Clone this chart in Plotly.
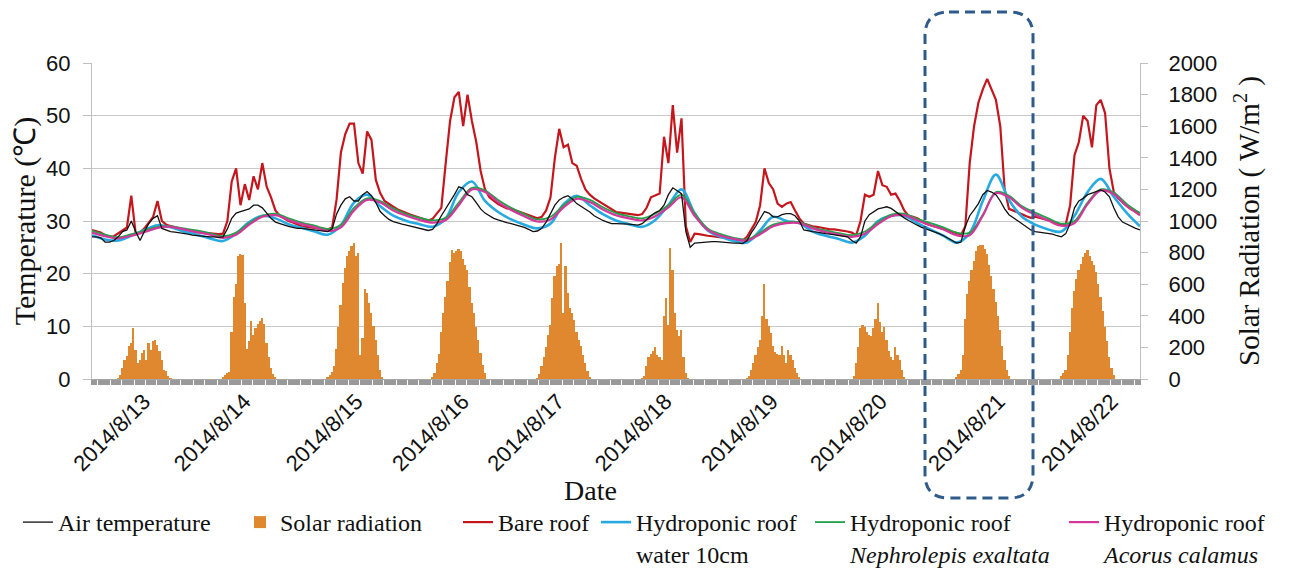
import pandas as pd
import plotly.graph_objects as go

# ---------------- data ----------------
start = "2014-08-13 00:00"
end = "2014-08-23 00:00"

# hourly values 2014-08-13 00:00 ... 2014-08-23 00:00 (241 values)
bare_roof = [
    28.3, 28.1, 27.8, 27.3, 27.0, 27.1, 27.6, 28.2, 28.8, 34.8, 27.6, 27.8, 28.6, 29.6, 30.8, 33.8, 30.0, 29.3, 29.0, 28.8, 28.6, 28.4, 28.2, 28.0,
    27.9, 27.8, 27.7, 27.6, 27.5, 27.5, 27.6, 30.0, 37.5, 40.0, 33.0, 37.0, 34.0, 38.5, 36.0, 41.0, 36.5, 34.5, 32.0, 31.0, 30.5, 30.0, 29.7, 29.3,
    29.0, 28.9, 28.8, 28.8, 28.7, 28.6, 28.4, 28.8, 34.0, 43.0, 46.5, 48.5, 48.5, 41.0, 39.0, 47.0, 45.4, 37.8, 35.3, 33.8, 33.2, 32.7, 32.2, 31.8,
    31.5, 31.2, 30.9, 30.6, 30.3, 30.1, 30.4, 31.5, 32.5, 41.0, 49.0, 53.5, 54.5, 48.0, 54.0, 49.0, 45.0, 39.5, 36.0, 34.5, 33.8, 33.2, 32.8, 32.4,
    32.3, 32.0, 31.7, 31.4, 31.1, 30.8, 30.5, 30.8, 32.0, 34.5, 42.0, 47.5, 44.0, 44.5, 41.0, 40.5, 38.0, 36.0, 35.0, 34.3, 33.8, 33.3, 32.8, 32.3,
    31.7, 31.6, 31.5, 31.4, 31.3, 31.1, 31.3, 32.5, 34.5, 34.8, 35.2, 46.0, 41.0, 52.0, 43.0, 49.5, 29.0, 26.0, 27.6, 27.5, 27.3, 27.2, 27.1, 27.0,
    27.0, 26.8, 26.6, 26.5, 26.4, 26.3, 27.0, 28.5, 29.8, 33.0, 40.0, 37.2, 36.0, 33.3, 32.7, 33.3, 33.6, 32.0, 30.5, 29.5, 29.2, 29.0, 28.9, 28.7,
    28.5, 28.4, 28.4, 28.3, 28.2, 28.0, 27.8, 27.3, 30.0, 35.0, 34.6, 35.0, 39.5, 36.8, 36.5, 35.0, 35.2, 33.8, 32.0, 31.0, 30.8, 30.5, 30.0, 29.5,
    29.2, 29.0, 28.8, 28.5, 28.2, 28.0, 27.7, 27.3, 29.0, 41.0, 48.0, 52.5, 55.0, 57.0, 55.0, 53.0, 48.0, 36.0, 32.3, 32.0, 31.7, 31.3, 30.9, 30.6,
    30.8, 30.6, 30.4, 30.2, 29.9, 29.5, 29.2, 29.4, 33.0, 42.5, 45.0, 50.0, 49.0, 44.0, 52.0, 53.0, 50.5, 40.0, 35.5, 34.3, 33.5, 32.8, 32.2, 31.8, 31.5,
]

air_temperature = [
    27.0, 27.0, 26.8, 26.0, 26.0, 26.3, 27.0, 28.0, 28.3, 30.0, 28.0, 26.3, 28.0, 29.5, 30.5, 31.0, 28.6, 28.3, 28.0, 27.9, 27.8, 27.7, 27.5, 27.3,
    27.2, 27.2, 27.1, 27.0, 27.0, 26.9, 27.0, 28.5, 30.5, 31.5, 31.8, 32.0, 32.3, 33.0, 33.0, 32.5, 31.5, 30.5, 29.8, 29.5, 29.2, 29.0, 28.8, 28.6,
    28.6, 28.5, 28.4, 28.3, 28.2, 28.1, 28.0, 28.5, 31.3, 33.0, 34.2, 34.6, 33.8, 33.8, 35.0, 35.6, 34.8, 33.5, 31.8, 31.0, 30.3, 29.9, 29.6, 29.4,
    29.2, 29.0, 28.8, 28.6, 28.4, 28.2, 28.4, 29.5, 31.0, 32.3, 33.5, 35.0, 36.5, 36.2, 35.0, 34.6, 33.5, 32.3, 31.5, 31.0, 30.5, 30.2, 29.9, 29.7,
    29.5, 29.3, 29.0, 28.8, 28.4, 28.0, 28.1, 28.6, 29.8, 31.4, 33.0, 34.0, 34.5, 34.8, 34.2, 33.3, 32.8, 32.2, 31.7, 31.0, 30.5, 30.1, 29.8, 29.5,
    29.5, 29.5, 29.4, 29.4, 29.3, 29.2, 29.5, 30.3, 31.0, 31.6, 32.0, 33.0, 35.0, 36.3, 35.8, 35.2, 28.0, 25.0, 25.8, 25.9, 26.0, 26.0, 26.1, 26.1,
    26.0, 26.0, 25.9, 25.8, 25.8, 25.7, 26.3, 27.8, 29.0, 30.5, 31.8, 31.5, 30.8, 30.8, 31.2, 31.4, 31.4, 31.0, 30.0, 28.3, 28.1, 28.0, 27.9, 27.7,
    27.6, 27.5, 27.4, 27.3, 27.2, 27.0, 26.3, 25.8, 27.0, 30.0, 31.2, 31.8, 32.3, 32.5, 32.7, 32.4, 31.8, 31.1, 30.6, 30.1, 29.6, 29.2, 28.8, 28.5,
    28.3, 28.0, 27.6, 27.2, 26.8, 26.3, 25.8, 26.0, 29.0, 31.0, 32.1, 33.3, 35.0, 35.8, 35.5, 35.0, 33.8, 32.3, 31.2, 30.6, 30.0, 29.5, 28.8, 28.3,
    28.0, 27.9, 27.8, 27.7, 27.5, 27.2, 27.0, 27.6, 29.5, 32.5, 33.8, 34.3, 35.0, 35.3, 35.6, 35.9, 35.5, 34.6, 32.5, 30.8, 29.8, 29.4, 28.9, 28.6, 28.3,
]

# 3-hourly values 2014-08-13 00:00 ... 2014-08-23 00:00 (81 values)
hydro_water = [
    27.3, 26.5, 26.3, 27.2, 28.3, 29.2, 28.8, 28.0,
    27.4, 26.7, 26.2, 27.6, 29.8, 31.0, 30.5, 29.4,
    28.7, 28.0, 27.4, 29.2, 33.5, 35.0, 32.8, 31.0,
    30.0, 29.4, 28.9, 30.5, 35.5, 37.5, 33.8, 31.7,
    30.3, 29.3, 28.6, 29.5, 33.2, 34.8, 33.0, 31.3,
    30.1, 29.4, 28.9, 30.2, 33.0, 36.0, 31.5, 28.2,
    27.0, 26.2, 25.9, 28.2, 30.8, 30.0, 29.6, 28.0,
    27.2, 26.6, 25.9, 27.2, 30.0, 31.0, 31.0, 29.6,
    28.4, 27.2, 25.9, 27.7, 33.8, 38.8, 34.0, 30.8,
    29.3, 28.4, 28.0, 31.0, 35.5, 38.0, 34.6, 31.5, 29.0,
]
hydro_nephrolepis = [
    28.2, 27.4, 26.9, 27.5, 28.2, 28.9, 29.0, 28.6,
    28.2, 27.7, 27.1, 27.8, 29.6, 31.0, 31.4, 30.5,
    29.7, 29.1, 28.5, 29.3, 32.5, 34.3, 33.8, 32.4,
    31.3, 30.6, 30.1, 30.6, 33.5, 36.3, 35.8, 34.0,
    32.5, 31.3, 30.3, 30.8, 33.0, 34.6, 34.0, 32.6,
    31.5, 30.9, 30.5, 31.4, 33.0, 35.0, 31.5, 28.6,
    27.5, 26.8, 26.5, 27.8, 29.3, 29.8, 29.8, 28.8,
    28.2, 27.7, 27.3, 28.0, 29.8, 31.2, 31.4, 30.4,
    29.6, 28.8, 27.8, 27.8, 31.2, 35.5, 34.8, 32.8,
    31.6, 30.5, 29.5, 30.0, 33.5, 36.0, 35.4, 33.2, 31.5,
]
hydro_acorus = [
    27.8, 27.1, 26.7, 27.2, 27.9, 28.7, 28.9, 28.4,
    27.9, 27.4, 26.8, 27.4, 29.3, 30.8, 31.1, 30.2,
    29.4, 28.8, 28.1, 28.8, 32.0, 34.0, 33.5, 32.0,
    31.0, 30.2, 29.7, 30.2, 33.0, 36.0, 35.5, 33.6,
    32.1, 30.9, 29.9, 30.3, 32.6, 34.2, 33.6, 32.2,
    31.1, 30.5, 30.1, 30.9, 32.6, 34.5, 31.0, 28.3,
    27.2, 26.6, 26.3, 27.5, 29.0, 29.6, 29.6, 28.6,
    27.9, 27.4, 27.0, 27.6, 29.4, 30.9, 31.1, 30.1,
    29.2, 28.4, 27.3, 27.3, 31.0, 35.3, 34.5, 32.5,
    31.2, 30.1, 29.1, 29.6, 33.2, 35.8, 35.1, 32.8, 31.1,
]

# solar radiation (W/m2), 30-min values from 05:30 to 18:30 each day (night = 0)
solar_days = ["2014-08-13", "2014-08-14", "2014-08-15", "2014-08-16", "2014-08-17",
              "2014-08-18", "2014-08-19", "2014-08-20", "2014-08-21", "2014-08-22"]
solar_radiation = [
    [0, 5, 27, 70, 122, 143, 207, 228, 323, 186, 101, 122, 165, 186, 122, 228, 186, 238, 249, 217, 175, 122, 59, 48, 21, 3, 0],
    [0, 10, 25, 35, 45, 300, 520, 600, 780, 790, 785, 480, 190, 240, 370, 280, 320, 350, 370, 386, 350, 230, 140, 70, 30, 10, 0],
    [0, 10, 25, 45, 80, 190, 330, 470, 610, 700, 780, 810, 840, 860, 780, 800, 150, 260, 570, 545, 480, 420, 333, 250, 150, 60, 15],
    [0, 10, 40, 100, 160, 300, 420, 520, 620, 740, 815, 800, 810, 820, 810, 760, 720, 690, 580, 480, 420, 330, 250, 165, 90, 40, 0],
    [0, 5, 30, 80, 140, 200, 280, 340, 510, 650, 714, 730, 860, 420, 714, 545, 450, 418, 376, 300, 249, 207, 150, 101, 50, 10, 0],
    [0, 5, 20, 80, 140, 160, 180, 200, 150, 140, 120, 400, 510, 340, 830, 690, 420, 310, 270, 310, 140, 40, 5, 0, 0, 0, 0],
    [0, 5, 20, 55, 100, 150, 200, 250, 400, 600, 380, 334, 290, 207, 170, 160, 154, 207, 150, 101, 186, 150, 122, 70, 40, 15, 0],
    [0, 0, 20, 100, 200, 320, 340, 330, 300, 280, 270, 320, 380, 480, 360, 300, 330, 250, 180, 140, 120, 200, 150, 120, 60, 10, 0],
    [0, 10, 30, 60, 150, 380, 540, 620, 690, 750, 810, 840, 850, 845, 820, 790, 720, 650, 570, 490, 400, 310, 210, 120, 60, 20, 0],
    [0, 20, 40, 60, 150, 300, 450, 560, 630, 690, 730, 775, 800, 815, 780, 750, 720, 680, 600, 520, 430, 330, 240, 140, 70, 25, 0],
]

tick_positions = ["2014-08-13 11:54", "2014-08-14 10:54", "2014-08-15 12:33", "2014-08-16 12:54",
                  "2014-08-17 10:41", "2014-08-18 11:18", "2014-08-19 11:39", "2014-08-20 12:36",
                  "2014-08-21 15:38", "2014-08-22 17:30"]
tick_labels = ["2014/8/13", "2014/8/14", "2014/8/15", "2014/8/16", "2014/8/17",
               "2014/8/18", "2014/8/19", "2014/8/20", "2014/8/21", "2014/8/22"]

# ---------------- build ----------------
hourly_t = pd.date_range(start, end, freq="h")
three_hour_t = pd.date_range(start, end, freq="3h")
solar_t, solar_v = [], []
for day, vals in zip(solar_days, solar_radiation):
    solar_t.extend(pd.date_range(day + " 05:30", periods=len(vals), freq="30min"))
    solar_v.extend(vals)

SERIF = "Liberation Serif"
SANS = "Liberation Sans"

fig = go.Figure()

fig.add_trace(go.Bar(x=solar_t, y=solar_v, name="Solar radiation", yaxis="y2",
                     marker=dict(color="#E0882F", line=dict(width=0)),
                     width=1500000, legend="legend2"))
fig.add_trace(go.Scatter(x=hourly_t, y=bare_roof, mode="lines", name="Bare roof",
                         line=dict(color="#C5161D", width=2.2), legend="legend3"))
fig.add_trace(go.Scatter(x=three_hour_t, y=hydro_water, mode="lines",
                         name="Hydroponic roof<br>water 10cm",
                         line=dict(color="#27AAE1", width=2.6, shape="spline"), legend="legend4"))
fig.add_trace(go.Scatter(x=three_hour_t, y=hydro_nephrolepis, mode="lines",
                         name="Hydroponic roof<br><i>Nephrolepis exaltata</i>",
                         line=dict(color="#22A349", width=1.8, shape="spline"), legend="legend5"))
fig.add_trace(go.Scatter(x=three_hour_t, y=hydro_acorus, mode="lines",
                         name="Hydroponic roof<br><i>Acorus calamus</i>",
                         line=dict(color="#D1389A", width=2.2, shape="spline"), legend="legend6"))
fig.add_trace(go.Scatter(x=hourly_t, y=air_temperature, mode="lines", name="Air temperature",
                         line=dict(color="#111111", width=1.3), legend="legend"))

# the page body has an 8px default margin: figure is drawn from (8, 8)
OFF = 8
PAGE_W, PAGE_H = 1298, 568
W, H = PAGE_W - OFF, PAGE_H - OFF
PLOT_L, PLOT_R, PLOT_T, PLOT_B = 92, 1140, 63, 379   # plot area in page pixels
L, T = PLOT_L - OFF, PLOT_T - OFF
R, B = PAGE_W - PLOT_R, PAGE_H - PLOT_B
pw, ph = PLOT_R - PLOT_L, PLOT_B - PLOT_T


def px_x(x):
    return (x - PLOT_L) / pw


def px_y(y):
    return (PLOT_B - y) / ph


legend_lefts = {"legend": 18, "legend2": 240, "legend3": 458,
                "legend4": 596, "legend5": 810, "legend6": 1064}
layout_legends = {}
for key, left in legend_lefts.items():
    layout_legends[key] = dict(x=px_x(left), y=px_y(500), xanchor="left", yanchor="top",
                               bgcolor="rgba(0,0,0,0)", borderwidth=0, valign="top",
                               font=dict(family=SERIF, size=24, color="#111"),
                               itemwidth=30, tracegroupgap=0)

# dashed rounded highlight frame (paper coordinates)
x0, x1 = px_x(925), px_x(1033)
yt, yb = px_y(12), px_y(498)
rx, ry = 24 / pw, 24 / ph
frame_path = (f"M{x0+rx},{yt} L{x1-rx},{yt} Q{x1},{yt} {x1},{yt-ry} "
              f"L{x1},{yb+ry} Q{x1},{yb} {x1-rx},{yb} L{x0+rx},{yb} "
              f"Q{x0},{yb} {x0},{yb+ry} L{x0},{yt-ry} Q{x0},{yt} {x0+rx},{yt} Z")

fig.update_layout(
    width=W, height=H,
    margin=dict(l=L, r=R, t=T, b=B, autoexpand=False),
    paper_bgcolor="white", plot_bgcolor="white",
    bargap=0, showlegend=True,
    **layout_legends,
    xaxis=dict(
        type="date", range=[start, end], showgrid=False, zeroline=False,
        showline=True, linecolor="#a6a6a6", linewidth=1,
        tickmode="array", tickvals=tick_positions, ticktext=tick_labels,
        tickangle=-45, ticks="", tickfont=dict(family=SANS, size=22, color="#111"),
        minor=dict(ticks="outside", ticklen=5, tickwidth=1.5, tickcolor="#999999",
                   dtick=1800000, tick0=start, showgrid=False),
    ),
    yaxis=dict(
        range=[0, 60], dtick=10, showgrid=True, gridcolor="#c9c9c9", gridwidth=1.4,
        zeroline=False, showline=True, linecolor="#bfbfbf", linewidth=1,
        ticks="outside", ticklen=8, tickcolor="#bfbfbf", ticklabelstandoff=8,
        tickfont=dict(family=SANS, size=22, color="#111"),
        title=dict(text="Temperature (℃)", font=dict(family=SERIF, size=30, color="#111"), standoff=8),
    ),
    yaxis2=dict(
        range=[0, 2000], dtick=200, overlaying="y", side="right", showgrid=False,
        zeroline=False, showline=True, linecolor="#bfbfbf", linewidth=1,
        ticks="outside", ticklen=7, tickcolor="#bfbfbf", ticklabelstandoff=16,
        tickfont=dict(family=SANS, size=22, color="#111"),
        title=dict(text="Solar Radiation ( W/m<sup>2</sup> )",
                   font=dict(family=SERIF, size=29, color="#111"), standoff=22),
    ),
    annotations=[dict(text="Date", xref="paper", yref="paper", x=px_x(590), y=px_y(490),
                      xanchor="center", yanchor="middle", showarrow=False,
                      font=dict(family=SERIF, size=28, color="#111"))],
    shapes=[dict(type="path", xref="paper", yref="paper", path=frame_path,
                 line=dict(color="#2F5A8C", width=3, dash="10px,6px"), layer="above")],
)

fig.write_html("out.html")
